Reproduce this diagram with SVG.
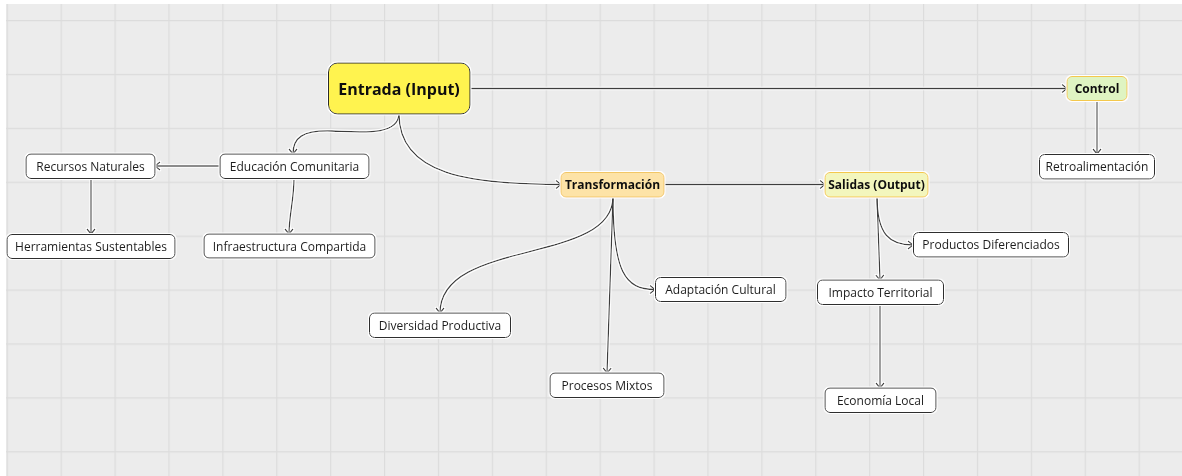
<svg xmlns="http://www.w3.org/2000/svg" width="1182" height="476" viewBox="0 0 1182 476">
  <style>
    .node rect { fill: #ffffff; stroke: #2e2e2e; stroke-width: 1; }
    .node text { font-family: "Open Sans", "Noto Sans", "DejaVu Sans", sans-serif; font-size: 12px; fill: #1e1e1e; text-anchor: middle; dominant-baseline: central; }
    .node.key text { font-weight: bold; fill: #111111; }
    .node.entrada rect { fill: #fff350; stroke: #2a2a2a; }
    .node.entrada text { font-size: 16px; }
    .node.transf rect { fill: #fde3a7; stroke: #f2c766; }
    .node.salidas rect { fill: #f3f6bd; stroke: #f4c84e; }
    .node.control rect { fill: #dff4c2; stroke: #f4c84e; }
    .links path { fill: none; stroke: #3c3c3c; stroke-width: 1.3; marker-end: url(#chev); }
  </style>
  <defs>
    <pattern id="grid" patternUnits="userSpaceOnUse" x="6.7" y="20" width="53.9" height="53.9">
      <path d="M0,0.5 H53.9 M0.5,0 V53.9" fill="none" stroke="#dcdcdc" stroke-width="1.4"/>
    </pattern>
    <marker id="chev" markerUnits="userSpaceOnUse" viewBox="0 0 10 10" refX="9" refY="5" markerWidth="10" markerHeight="10" orient="auto">
      <path d="M4,1 L9,5 L4,9" fill="none" stroke="#3c3c3c" stroke-width="1.3"/>
    </marker>
    <filter id="halo" filterUnits="userSpaceOnUse" x="0" y="0" width="1182" height="476">
      <feMorphology in="SourceAlpha" operator="dilate" radius="1.3" result="grown"/>
      <feFlood flood-color="#ffffff"/>
      <feComposite in2="grown" operator="in" result="white"/>
      <feMerge>
        <feMergeNode in="white"/>
        <feMergeNode in="SourceGraphic"/>
      </feMerge>
    </filter>
  </defs>

  <!-- canvas -->
  <rect x="0" y="0" width="1182" height="476" fill="#ffffff"/>
  <rect x="6" y="4" width="1176" height="472" fill="#ececec"/>
  <rect x="6" y="4" width="1176" height="472" fill="url(#grid)"/>

  <!-- connectors -->
  <g id="connectors" class="links" filter="url(#halo)">
    <path d="M470,88.5 L1067,88.5"/>
    <path d="M399,114 C398,136 362,132 332,131 C302,130 293,138 293,154"/>
    <path d="M399,114 C399,175 470,184.5 561,184.5"/>
    <path d="M664,184.5 L825,184.5"/>
    <path d="M1097,101 L1097,154"/>
    <path d="M220,166 L155,166"/>
    <path d="M91,178 L91,234"/>
    <path d="M294,178 C294,200 289,215 289,234"/>
    <path d="M613,197 C613,265 440,238 440,313"/>
    <path d="M613,197 L607,373"/>
    <path d="M613,197 C613,272 625,289.5 655,289.5"/>
    <path d="M877,197 C877,235 890,245 913,245"/>
    <path d="M877,197 L880,280"/>
    <path d="M880,305 L880,388"/>
  </g>

  <!-- nodes -->
  <g id="entrada" class="node key entrada" filter="url(#halo)">
    <rect x="328.5" y="63" width="141.5" height="51" rx="9"/>
    <text x="399" y="89">Entrada (Input)</text>
  </g>
  <g id="control" class="node key control" filter="url(#halo)">
    <rect x="1067" y="76.5" width="60" height="24" rx="5"/>
    <text x="1097" y="88.5">Control</text>
  </g>
  <g id="transformacion" class="node key transf" filter="url(#halo)">
    <rect x="561" y="172.5" width="103" height="24.5" rx="5"/>
    <text x="612.5" y="184.5">Transformación</text>
  </g>
  <g id="salidas" class="node key salidas" filter="url(#halo)">
    <rect x="825" y="172.5" width="103" height="24.5" rx="5"/>
    <text x="876.5" y="184.5">Salidas (Output)</text>
  </g>
  <g id="retroalimentacion" class="node" filter="url(#halo)">
    <rect x="1039.5" y="154.5" width="115" height="24.5" rx="5"/>
    <text x="1097" y="166.5">Retroalimentación</text>
  </g>
  <g id="recursos-naturales" class="node" filter="url(#halo)">
    <rect x="26" y="154" width="129" height="24.5" rx="5"/>
    <text x="90.5" y="166">Recursos Naturales</text>
  </g>
  <g id="educacion-comunitaria" class="node" filter="url(#halo)">
    <rect x="220" y="154" width="149" height="24.5" rx="5"/>
    <text x="294.5" y="166">Educación Comunitaria</text>
  </g>
  <g id="herramientas-sustentables" class="node" filter="url(#halo)">
    <rect x="7" y="234.5" width="168" height="24" rx="5"/>
    <text x="91" y="246.5">Herramientas Sustentables</text>
  </g>
  <g id="infraestructura-compartida" class="node" filter="url(#halo)">
    <rect x="204" y="234" width="171" height="24" rx="5"/>
    <text x="289.5" y="246">Infraestructura Compartida</text>
  </g>
  <g id="diversidad-productiva" class="node" filter="url(#halo)">
    <rect x="369.5" y="313" width="141" height="24.5" rx="5"/>
    <text x="440" y="325">Diversidad Productiva</text>
  </g>
  <g id="adaptacion-cultural" class="node" filter="url(#halo)">
    <rect x="655.5" y="277.5" width="130.5" height="24" rx="5"/>
    <text x="720.5" y="289.5">Adaptación Cultural</text>
  </g>
  <g id="procesos-mixtos" class="node" filter="url(#halo)">
    <rect x="550" y="373" width="114" height="24.5" rx="5"/>
    <text x="607" y="385">Procesos Mixtos</text>
  </g>
  <g id="productos-diferenciados" class="node" filter="url(#halo)">
    <rect x="913.5" y="232.5" width="155" height="24.5" rx="5"/>
    <text x="991" y="244.5">Productos Diferenciados</text>
  </g>
  <g id="impacto-territorial" class="node" filter="url(#halo)">
    <rect x="817.5" y="280" width="126" height="24.5" rx="5"/>
    <text x="880.5" y="292">Impacto Territorial</text>
  </g>
  <g id="economia-local" class="node" filter="url(#halo)">
    <rect x="825" y="388" width="111" height="24.5" rx="5"/>
    <text x="880.5" y="400">Economía Local</text>
  </g>
</svg>
